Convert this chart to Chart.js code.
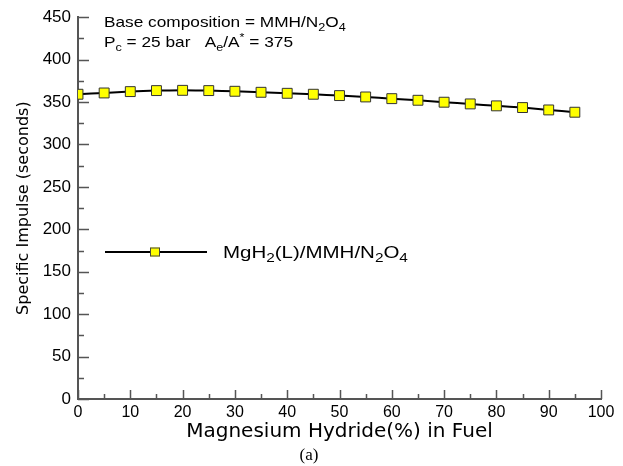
<!DOCTYPE html>
<html>
<head>
<meta charset="utf-8">
<script src="https://cdn.jsdelivr.net/npm/chart.js@4"></script>
<style>
  html, body { margin: 0; padding: 0; background: #fff; }
  #wrap { width: 623px; height: 466px; }
</style>
</head>
<body>
<div id="wrap"><canvas id="c" width="623" height="466"></canvas></div>
<script>
// MgH2 fraction in fuel (%) and specific impulse
var mgh2Pct = [0, 5, 10, 15, 20, 25, 30, 35, 40, 45, 50, 55, 60, 65, 70, 75, 80, 85, 90, 95];
var ispSec  = [359.2, 360.7, 362.3, 363.5, 363.8, 363.5, 362.7, 361.5, 360.3, 359.2,
               357.6, 356.0, 354.0, 352.1, 349.8, 347.8, 345.5, 343.5, 340.7, 338.0];
var seriesName = "MgH2(L)/MMH/N2O4";

var FONT = "Liberation Sans, Arial, sans-serif";
var WIDE = "DejaVu Sans, sans-serif";
var AXIS = "#555555";

var pts = [];
for (var i = 0; i < mgh2Pct.length; i++) pts.push({ x: mgh2Pct[i], y: ispSec[i] });

// text with sub/superscripts, squashed wide like the original figure
// parts = [[text, isSub, isSup], ...]
function richText(ctx, x, y, parts, size, stretch) {
  ctx.save();
  ctx.translate(x, y);
  ctx.scale(stretch, 1);
  var cx = 0;
  for (var k = 0; k < parts.length; k++) {
    var p = parts[k];
    var small = p[1] || p[2];
    var s = small ? Math.round(size * 0.72) : size;
    var dy = p[1] ? size * 0.28 : (p[2] ? -size * 0.42 : 0);
    ctx.font = s + "px " + FONT;
    ctx.fillText(p[0], cx, dy);
    cx += ctx.measureText(p[0]).width;
  }
  ctx.restore();
}

// inward ticks + annotations + the legend in the middle of the plot
var extras = {
  id: "extras",
  afterDraw: function(chart) {
    var ctx = chart.ctx, xs = chart.scales.x, ys = chart.scales.y;
    var a = chart.chartArea;
    ctx.save();
    ctx.strokeStyle = AXIS;
    ctx.lineWidth = 1.5;
    ctx.beginPath();
    for (var v = 0; v <= 100; v += 5) {
      var px = Math.round(xs.getPixelForValue(v)) + 0.5;
      var len = (v % 10 === 0) ? 9 : 5;
      ctx.moveTo(px, a.bottom); ctx.lineTo(px, a.bottom - len);
    }
    for (var w = 0; w <= 450; w += 25) {
      var py = Math.round(ys.getPixelForValue(w)) + 0.5;
      var l2 = (w % 50 === 0) ? 11 : 6;
      ctx.moveTo(a.left, py); ctx.lineTo(a.left + l2, py);
    }
    ctx.stroke();

    ctx.fillStyle = "#000";
    ctx.textBaseline = "alphabetic";
    ctx.textAlign = "left";
    richText(ctx, 104, 27, [["Base composition = MMH/N"], ["2", true], ["O"], ["4", true]], 15, 1.15);
    richText(ctx, 104, 47, [["P"], ["c", true], [" = 25 bar   A"], ["e", true], ["/A"], ["*", false, true], [" = 375"]], 15, 1.15);

    // legend sample
    var ly = 252;
    ctx.strokeStyle = "#000";
    ctx.lineWidth = 2;
    ctx.beginPath(); ctx.moveTo(105, ly); ctx.lineTo(207, ly); ctx.stroke();
    ctx.fillStyle = "#ffff00";
    ctx.fillRect(150, ly - 4.5, 10, 9);
    ctx.lineWidth = 1;
    ctx.strokeStyle = "#444";
    ctx.strokeRect(150.5, ly - 4, 9, 8);
    ctx.fillStyle = "#000";
    richText(ctx, 223, 258, [["MgH"], ["2", true], ["(L)/MMH/N"], ["2", true], ["O"], ["4", true]], 16, 1.28);

    // panel caption
    ctx.font = "17px Liberation Serif, Times New Roman, serif";
    ctx.textAlign = "center";
    ctx.fillText("(a)", 309, 460);
    ctx.restore();
  }
};

new Chart(document.getElementById("c"), {
  type: "line",
  data: {
    datasets: [{
      label: seriesName,
      data: pts,
      borderColor: "#000",
      borderWidth: 2,
      tension: 0.2,
      pointStyle: "rect",
      pointRadius: 7,
      pointBackgroundColor: "#ffff00",
      pointBorderColor: "#333",
      pointBorderWidth: 1
    }]
  },
  options: {
    responsive: false,
    animation: false,
    layout: { padding: { top: 16, right: 22, left: 0, bottom: 22 } },
    plugins: { legend: { display: false }, tooltip: { enabled: false } },
    scales: {
      x: {
        type: "linear", min: 0, max: 100,
        border: { color: AXIS, width: 2 },
        grid: { display: false, drawTicks: false },
        ticks: { stepSize: 10, color: "#000", font: { family: FONT, size: 16 }, padding: 4, maxRotation: 0 },
        title: { display: true, text: "Magnesium Hydride(%) in Fuel", color: "#000",
                 font: { family: WIDE, size: 20 }, padding: 0 },
        afterFit: function(s) { s.height = 45; }
      },
      y: {
        min: 0, max: 450,
        border: { color: AXIS, width: 2 },
        grid: { display: false, drawTicks: false },
        ticks: { stepSize: 50, color: "#000", font: { family: FONT, size: 17 }, padding: 7 },
        title: { display: true, text: "Specific Impulse (seconds)", color: "#000",
                 font: { family: WIDE, size: 16 }, padding: 14 },
        afterFit: function(s) { s.width = 78; }
      }
    }
  },
  plugins: [extras]
});
</script>
</body>
</html>
